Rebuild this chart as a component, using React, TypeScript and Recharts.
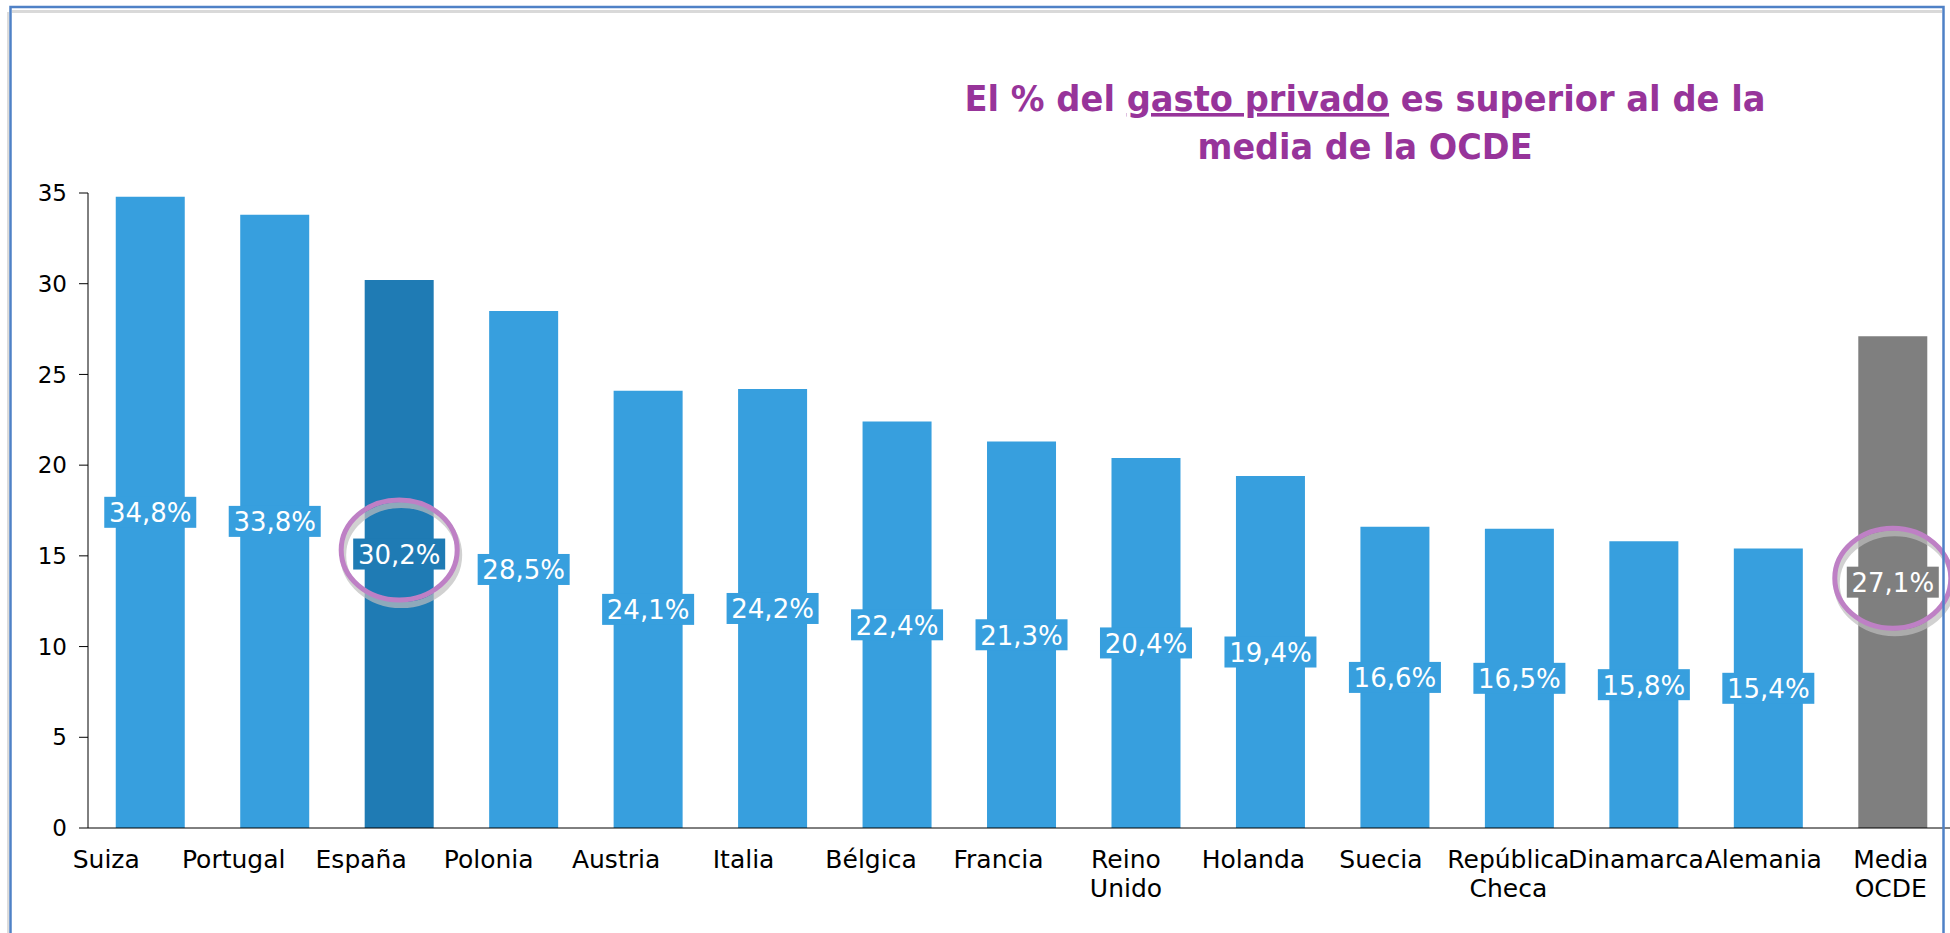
import React from 'react';
import { BarChart, Bar, XAxis, YAxis, Cell, LabelList } from 'recharts';

// datos: % de gasto privado
const categories = [
  'Suiza', 'Portugal', 'España', 'Polonia', 'Austria', 'Italia', 'Bélgica', 'Francia',
  'Reino\nUnido', 'Holanda', 'Suecia', 'República\nCheca', 'Dinamarca', 'Alemania', 'Media\nOCDE',
];
const values = [34.8, 33.8, 30.2, 28.5, 24.1, 24.2, 22.4, 21.3, 20.4, 19.4, 16.6, 16.5, 15.8, 15.4, 27.1];
const yTicks = [0, 5, 10, 15, 20, 25, 30, 35];
const circled = ['España', 'Media\nOCDE'];

const data = categories.map((name, i) => ({ name, value: values[i] }));

const barColor = (name: string) => {
  if (name === 'España') return '#1F7BB4';
  if (name === 'Media\nOCDE') return '#7F7F7F';
  return '#379FDE';
};

const fmt = (v: number) => v.toFixed(1).replace('.', ',') + '%';

const CategoryTick = (props: any) => {
  const { x, y, payload, index } = props;
  const lines = String(payload.value).split('\n');
  // the labels in the original sit on a slightly wider spacing than the bars
  const dx = (index - (categories.length - 1)) * 3 - 2;
  return (
    <text x={x + dx} y={y + 40} textAnchor="middle" fontSize={25} fill="#000" fontFamily="DejaVu Sans">
      {lines.map((l, i) => (
        <tspan key={i} x={x + dx} dy={i === 0 ? 0 : 29}>{l}</tspan>
      ))}
    </text>
  );
};

const ValueLabel = (props: any) => {
  const { x, y, width, height, value, index } = props;
  const name = categories[index];
  const cx = x + width / 2;
  const cy = y + height / 2;
  const color = barColor(name);
  return (
    <g>
      <rect x={cx - 46} y={cy - 15.5} width={92} height={31} fill={color} />
      <text x={cx} y={cy + 10} textAnchor="middle" fontSize={26} fill="#fff" fontFamily="DejaVu Sans">
        {fmt(value)}
      </text>
      {circled.includes(name) && (
        <g>
          <ellipse cx={cx + 2} cy={cy + 1} rx={58} ry={50} fill="none" stroke="#bdbdbd" strokeOpacity={0.7} strokeWidth={6} />
          <ellipse cx={cx} cy={cy - 4} rx={58} ry={50} fill="none" stroke="#BE80C5" strokeWidth={5} />
        </g>
      )}
    </g>
  );
};

const App = () => {
  return (
    <div style={{ position: 'fixed', left: 0, top: 0, width: 1950, height: 933, overflow: 'hidden', background: '#fff' }}>
      <BarChart
        width={1960}
        height={933}
        data={data}
        margin={{ top: 193, right: 5, left: 0, bottom: 0 }}
        barCategoryGap="22.3%"
      >
        <YAxis
          width={88}
          domain={[0, 35]}
          ticks={yTicks}
          interval={0}
          tickSize={9}
          tickMargin={12}
          stroke="#000"
          tick={{ fontSize: 23, fill: '#000', fontFamily: 'DejaVu Sans' }}
        />
        <XAxis
          dataKey="name"
          height={105}
          interval={0}
          tickLine={false}
          tickSize={0}
          tickMargin={0}
          stroke="#000"
          tick={<CategoryTick />}
        />
        <Bar dataKey="value" isAnimationActive={false}>
          {data.map((d) => (
            <Cell key={d.name} fill={barColor(d.name)} />
          ))}
          <LabelList dataKey="value" content={<ValueLabel />} />
        </Bar>
      </BarChart>

      <svg width={1950} height={933} style={{ position: 'absolute', left: 0, top: 0, pointerEvents: 'none' }}>
        {/* marco */}
        <line x1={12} y1={11.5} x2={1942} y2={11.5} stroke="#d9d9d9" strokeWidth={3} />
        <line x1={8} y1={12} x2={8} y2={933} stroke="#dcdcdc" strokeWidth={2} />
        <rect x={10.5} y={7} width={1933} height={960} fill="none" stroke="#4F81C6" strokeWidth={2.5} />
        {/* título */}
        <text
          x={1365}
          y={111}
          textAnchor="middle"
          fontSize={36}
          fontWeight="bold"
          fill="#97349A"
          fontFamily="DejaVu Sans"
          textLength={801}
          lengthAdjust="spacingAndGlyphs"
        >
          El % del <tspan textDecoration="underline">gasto privado</tspan> es superior al de la
        </text>
        <text
          x={1365}
          y={159}
          textAnchor="middle"
          fontSize={36}
          fontWeight="bold"
          fill="#97349A"
          fontFamily="DejaVu Sans"
          textLength={335}
          lengthAdjust="spacingAndGlyphs"
        >
          media de la OCDE
        </text>
      </svg>
    </div>
  );
};

export default App;
